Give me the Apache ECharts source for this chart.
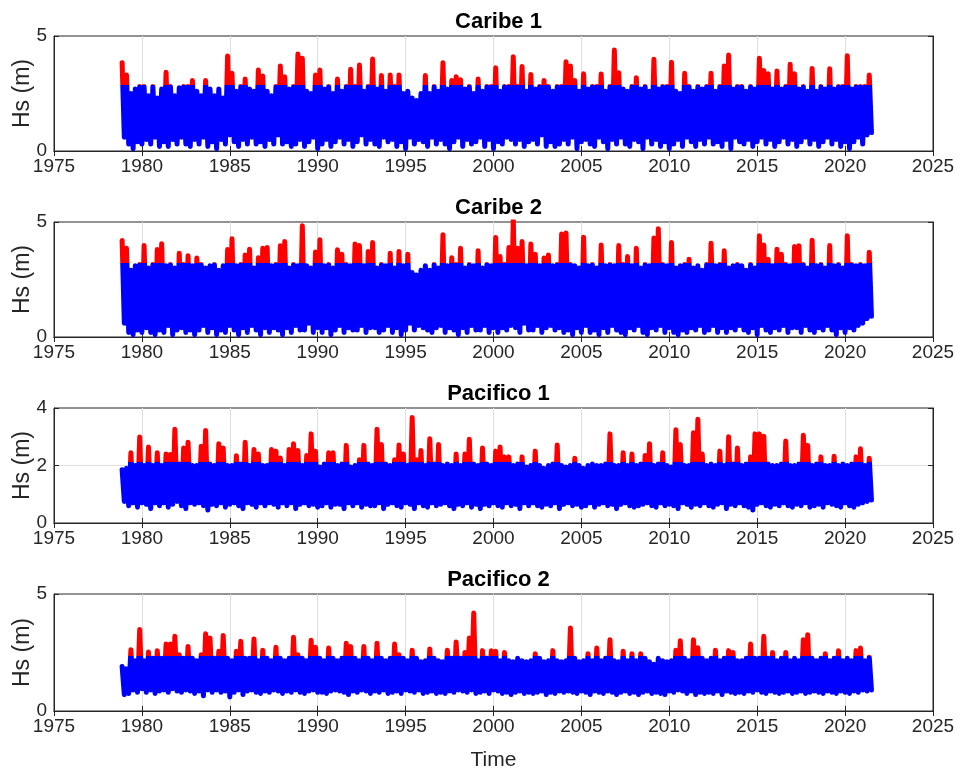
<!DOCTYPE html>
<html><head><meta charset="utf-8">
<script src="https://cdn.jsdelivr.net/npm/echarts@6/dist/echarts.min.js"></script>
<style>html,body{margin:0;padding:0;background:#fff}#c{width:961px;height:771px}</style>
</head><body><div id="c"></div>
<script>
// time grid: first sample (year) and spacing between successive maxima (years)
const startYear = 1978.875;
const stepYears = 0.25;
const titles = ['Caribe 1', 'Caribe 2', 'Pacifico 1', 'Pacifico 2'];
const thresholds = [2.87, 3.23, 2.11, 2.34];
const yMax = [5, 5, 4, 5];
const yStep = [5, 5, 2, 5];

// quarterly maxima (Hs, m)
const caribe1High = [3.84,
 3.3,2.5,2.7,2.8, 2.8,2.4,2.8,2.3, 2.7,3.42,2.8,2.4, 2.75,2.8,2.8,3.06, 2.6,2.4,3.06,2.7,
 2.4,2.7,2.3,4.13, 3.38,2.6,2.8,3.13, 2.7,2.6,3.52,3.26, 2.6,2.4,2.8,3.7, 3.23,2.7,2.8,4.22,
 4.03,2.6,2.5,3.3, 3.52,2.7,2.8,2.5, 3.13,2.6,2.8,3.55, 2.8,3.74,2.6,2.8, 4.0,2.7,3.28,2.6,
 3.3,2.8,3.3,2.5, 2.6,2.3,2.2,2.5, 3.28,2.5,2.8,2.6, 3.84,2.7,3.06,3.23, 3.1,2.7,2.8,2.5,
 3.13,2.6,2.8,2.8, 3.62,2.6,2.8,2.8, 4.1,2.8,3.67,2.6, 3.33,2.7,2.8,3.06, 2.8,2.6,2.8,2.8,
 3.88,3.7,3.06,2.6, 3.36,2.7,2.8,2.8, 3.35,2.6,2.8,4.39, 3.4,2.7,2.6,2.8, 3.19,2.7,2.8,2.6,
 3.99,2.7,2.8,2.8, 3.86,2.6,2.5,3.38, 2.8,2.6,2.8,2.7, 2.8,3.38,2.6,2.8, 3.7,4.17,2.7,2.8,
 2.8,2.6,2.8,2.7, 4.03,3.5,3.36,2.7, 3.48,2.7,2.8,3.77, 3.36,2.7,2.8,2.6, 3.59,2.6,2.8,2.7,
 3.58,2.7,2.8,2.8, 4.14,2.7,2.8,2.8, 2.8,3.3];
// quarterly minima (Hs, m)
const caribe1Low = [0.6,
 0.3,0.1,0.4,0.3, 0.5,0.3,0.6,0.2, 0.4,0.2,0.5,0.3, 0.6,0.3,0.2,0.5, 0.3,0.6,0.2,0.4,
 0.1,0.5,0.3,0.7, 0.4,0.2,0.5,0.3, 0.6,0.3,0.4,0.2, 0.5,0.3,0.7,0.3, 0.4,0.2,0.3,0.5,
 0.2,0.4,0.6,0.1, 0.3,0.5,0.2,0.4, 0.6,0.3,0.5,0.2, 0.4,0.7,0.3,0.5, 0.3,0.2,0.6,0.4,
 0.5,0.2,0.4,0.1, 0.6,0.3,0.5,0.4, 0.2,0.6,0.3,0.5, 0.3,0.1,0.4,0.6, 0.2,0.5,0.3,0.4,
 0.6,0.2,0.5,0.1, 0.4,0.3,0.6,0.5, 0.3,0.5,0.2,0.4, 0.5,0.3,0.7,0.2, 0.4,0.2,0.3,0.5,
 0.3,0.6,0.1,0.4, 0.5,0.3,0.2,0.6, 0.4,0.1,0.5,0.3, 0.6,0.3,0.2,0.5, 0.4,0.1,0.6,0.3,
 0.5,0.2,0.4,0.1, 0.3,0.5,0.2,0.6, 0.4,0.2,0.5,0.3, 0.6,0.3,0.4,0.2, 0.5,0.1,0.6,0.4,
 0.3,0.5,0.2,0.4, 0.6,0.3,0.5,0.2, 0.4,0.6,0.3,0.5, 0.2,0.4,0.6,0.3, 0.5,0.2,0.4,0.6,
 0.3,0.5,0.2,0.4, 0.1,0.4,0.6,0.3, 0.7,0.8];

const caribe2High = [4.2,
 3.86,2.9,3.1,3.15, 3.98,3.0,3.15,3.8, 4.05,3.1,3.15,3.0, 3.64,3.15,3.53,3.1, 3.43,3.15,3.0,3.1,
 3.15,2.9,3.1,3.8, 4.27,3.1,3.15,3.57, 3.82,3.0,3.45,3.86, 3.89,3.1,3.15,3.97, 4.15,3.0,3.15,3.1,
 4.84,3.1,3.0,3.7, 4.23,3.1,3.15,3.0, 3.79,3.6,3.15,3.1, 4.04,3.98,3.1,3.72, 4.11,3.0,3.15,3.1,
 3.64,3.0,3.72,3.1, 3.6,2.8,2.7,2.9, 3.1,2.9,3.15,3.0, 4.45,3.1,3.45,3.15, 3.86,3.0,3.15,3.1,
 3.75,3.0,3.15,3.1, 4.33,3.5,3.15,3.89, 5.07,3.86,4.15,3.1, 4.04,3.6,3.1,3.43, 3.57,3.1,3.15,4.48,
 4.52,3.15,3.1,3.0, 4.34,3.1,3.15,3.0, 4.0,3.1,3.15,3.1, 3.98,3.15,3.5,3.1, 3.86,3.0,3.15,3.1,
 4.3,4.71,3.15,3.1, 4.11,3.0,3.1,3.15, 3.38,3.0,3.1,2.9, 3.15,4.08,3.1,3.15, 3.75,3.0,3.1,3.15,
 3.1,2.9,3.15,3.0, 4.4,4.0,3.38,3.1, 3.82,3.6,3.15,3.1, 3.94,3.97,3.15,3.0, 4.21,3.1,3.15,3.0,
 3.98,3.1,3.15,3.0, 4.4,3.15,3.1,3.15, 3.1,3.69];
const caribe2Low = [0.6,
 0.2,0.1,0.3,0.2, 0.4,0.2,0.1,0.3, 0.2,0.5,0.1,0.3, 0.4,0.2,0.3,0.1, 0.3,0.5,0.2,0.4,
 0.1,0.3,0.2,0.5, 0.3,0.1,0.4,0.2, 0.5,0.3,0.1,0.4, 0.2,0.4,0.3,0.1, 0.4,0.2,0.5,0.3,
 0.3,0.6,0.2,0.4, 0.2,0.4,0.1,0.3, 0.5,0.2,0.4,0.3, 0.3,0.5,0.2,0.4, 0.4,0.2,0.3,0.5,
 0.2,0.4,0.1,0.3, 0.6,0.3,0.5,0.4, 0.3,0.2,0.4,0.5, 0.2,0.4,0.3,0.1, 0.4,0.2,0.5,0.3,
 0.3,0.5,0.2,0.4, 0.2,0.4,0.3,0.5, 0.4,0.2,0.6,0.3, 0.3,0.5,0.2,0.4, 0.5,0.3,0.4,0.2,
 0.3,0.1,0.4,0.2, 0.5,0.2,0.3,0.1, 0.4,0.2,0.5,0.3, 0.2,0.1,0.4,0.3, 0.5,0.2,0.1,0.4,
 0.3,0.5,0.2,0.4, 0.2,0.1,0.3,0.2, 0.4,0.3,0.5,0.2, 0.3,0.5,0.2,0.4, 0.2,0.4,0.3,0.5,
 0.3,0.2,0.4,0.1, 0.5,0.3,0.2,0.4, 0.3,0.5,0.2,0.4, 0.4,0.2,0.5,0.3, 0.2,0.4,0.3,0.5,
 0.3,0.1,0.4,0.2, 0.4,0.3,0.5,0.6, 0.8,0.9];

const pacifico1High = [1.85,
 1.9,2.44,2.0,2.99, 2.0,2.64,2.0,2.44, 2.0,2.4,2.38,3.26, 2.05,2.61,2.81,2.0, 2.0,2.67,3.22,2.05,
 2.0,2.76,2.61,2.0, 2.0,2.34,2.05,2.81, 2.0,2.56,2.4,2.0, 2.0,2.56,2.5,2.26, 2.0,2.56,2.76,2.52,
 2.0,2.35,3.1,2.5, 1.95,2.05,2.44,2.44, 2.0,2.05,2.7,1.95, 2.0,2.2,2.7,2.05, 2.0,3.26,2.73,2.05,
 2.0,2.2,2.71,2.4, 2.0,3.67,2.2,2.52, 2.0,2.93,2.05,2.73, 2.0,2.05,2.0,2.4, 2.0,2.4,2.91,2.05,
 2.0,2.61,2.05,2.0, 2.5,2.64,2.3,2.3, 2.0,2.05,2.3,1.95, 2.0,2.5,2.0,1.9, 2.0,2.05,2.71,2.0,
 1.95,2.0,2.25,2.0, 1.9,2.0,2.05,2.0, 2.0,2.05,3.1,2.0, 2.0,2.44,2.0,2.4, 2.0,2.05,2.35,2.76,
 2.0,2.05,2.44,2.0, 1.95,3.24,2.73,2.0, 2.0,3.14,3.61,2.4, 2.0,2.05,2.0,2.5, 2.0,3.0,2.05,2.61,
 2.0,2.05,2.3,3.1, 3.1,3.02,2.05,2.0, 2.0,2.05,2.85,2.0, 2.0,2.05,3.05,2.7, 2.0,2.05,2.3,2.0,
 2.0,2.32,2.0,2.05, 2.0,2.05,2.3,2.58, 2.0,2.25];
const pacifico1Low = [0.75,
 0.6,0.7,0.55,0.7, 0.65,0.5,0.7,0.6, 0.7,0.55,0.65,0.75, 0.6,0.5,0.7,0.65, 0.7,0.6,0.45,0.65,
 0.6,0.7,0.55,0.65, 0.7,0.6,0.5,0.7, 0.65,0.55,0.7,0.6, 0.7,0.65,0.55,0.7, 0.6,0.7,0.5,0.65,
 0.7,0.6,0.65,0.55, 0.6,0.7,0.55,0.65, 0.65,0.5,0.7,0.6, 0.7,0.55,0.65,0.6, 0.6,0.7,0.5,0.65,
 0.7,0.6,0.55,0.7, 0.65,0.5,0.7,0.6, 0.55,0.7,0.6,0.65, 0.7,0.6,0.5,0.65, 0.6,0.7,0.55,0.65,
 0.5,0.65,0.6,0.7, 0.6,0.55,0.7,0.6, 0.65,0.5,0.7,0.6, 0.7,0.6,0.55,0.65, 0.6,0.7,0.5,0.65,
 0.7,0.6,0.65,0.55, 0.6,0.7,0.55,0.65, 0.7,0.6,0.65,0.5, 0.65,0.7,0.6,0.55, 0.6,0.65,0.7,0.6,
 0.55,0.7,0.6,0.65, 0.6,0.5,0.7,0.65, 0.55,0.65,0.6,0.7, 0.6,0.55,0.65,0.7, 0.5,0.65,0.6,0.7,
 0.6,0.55,0.45,0.65, 0.7,0.6,0.55,0.65, 0.6,0.7,0.6,0.55, 0.65,0.6,0.7,0.55, 0.6,0.65,0.55,0.7,
 0.65,0.6,0.55,0.7, 0.6,0.55,0.65,0.7, 0.75,0.8];

const pacifico2High = [1.9,
 1.8,2.62,2.15,3.48, 2.15,2.52,2.25,2.58, 2.25,2.86,2.86,3.19, 2.4,2.25,2.76,2.25, 2.15,2.4,3.3,3.12,
 2.25,2.55,3.23,2.25, 2.15,2.55,2.98,2.25, 2.25,3.08,2.15,2.6, 2.25,2.15,2.72,2.25, 2.15,2.25,3.15,2.4,
 2.25,2.15,3.02,2.72, 2.25,2.15,2.69,2.25, 2.15,2.25,2.9,2.76, 2.25,2.15,2.76,2.25, 2.15,2.9,2.25,2.15,
 2.25,2.86,2.4,2.25, 2.15,2.6,2.25,2.1, 2.15,2.65,2.25,2.15, 2.1,2.6,2.25,2.95, 2.25,2.5,3.12,4.19,
 2.15,2.58,2.25,2.57, 2.55,2.15,2.5,2.15, 2.1,2.25,2.15,2.1, 2.15,2.45,2.25,2.1, 2.15,2.58,2.15,2.1,
 2.15,3.55,2.25,2.1, 2.15,2.45,2.15,2.69, 2.15,2.25,3.05,2.15, 2.1,2.55,2.15,2.45, 2.15,2.45,2.25,2.1,
 2.0,2.25,2.15,2.1, 2.15,2.6,3.0,2.25, 2.15,3.05,2.7,2.25, 2.15,2.25,2.6,2.15, 2.25,2.58,2.5,2.15,
 2.15,2.25,2.86,2.25, 2.25,3.19,2.25,2.5, 2.15,2.25,2.5,2.15, 2.25,2.15,3.05,3.26, 2.25,2.15,2.25,2.45,
 2.15,2.25,2.58,2.15, 2.25,2.15,2.58,2.69, 2.15,2.3];
const pacifico2Low = [0.7,
 0.75,0.9,0.8,0.95, 0.8,0.9,0.75,0.85, 0.9,0.8,0.95,0.85, 0.8,0.9,0.85,0.75, 0.85,0.65,0.9,0.8,
 0.9,0.8,0.85,0.6, 0.8,0.9,0.7,0.85, 0.9,0.8,0.75,0.85, 0.8,0.9,0.85,0.75, 0.85,0.8,0.9,0.8,
 0.75,0.85,0.9,0.8, 0.8,0.75,0.85,0.9, 0.85,0.8,0.7,0.85, 0.8,0.9,0.85,0.75, 0.85,0.8,0.9,0.75,
 0.8,0.85,0.75,0.9, 0.85,0.8,0.9,0.75, 0.8,0.85,0.75,0.8, 0.75,0.85,0.8,0.9, 0.85,0.8,0.9,0.75,
 0.8,0.85,0.75,0.9, 0.85,0.75,0.8,0.7, 0.8,0.85,0.75,0.8, 0.75,0.8,0.85,0.7, 0.8,0.75,0.85,0.8,
 0.85,0.8,0.75,0.85, 0.8,0.7,0.85,0.8, 0.75,0.85,0.8,0.7, 0.8,0.85,0.75,0.8, 0.7,0.8,0.85,0.75,
 0.8,0.75,0.7,0.85, 0.8,0.9,0.85,0.75, 0.85,0.7,0.8,0.75, 0.8,0.75,0.85,0.7, 0.85,0.8,0.75,0.8,
 0.75,0.85,0.8,0.9, 0.8,0.75,0.85,0.8, 0.75,0.8,0.85,0.75, 0.8,0.85,0.75,0.8, 0.85,0.8,0.75,0.85,
 0.8,0.75,0.85,0.8, 0.75,0.85,0.8,0.9, 0.85,0.9];

const highs = [caribe1High, caribe2High, pacifico1High, pacifico2High];
const lows = [caribe1Low, caribe2Low, pacifico1Low, pacifico2Low];

// layout
const TXT = '#262626';
const BLUE = '#0000ff', RED = '#ff0000';
const FONT = '"Liberation Sans", Arial, Helvetica, sans-serif';
const gridTops = [36, 222, 408, 594];
const gridHeights = [115, 115, 115, 117];
const gridLeft = 54, gridWidth = 879;

function buildSeriesData(h, l) {
  const out = [];
  const n = Math.min(h.length, l.length);
  for (let i = 0; i < n; i++) {
    const t = startYear + stepYears * i;
    out.push([t, h[i]]);
    out.push([t + stepYears / 2, l[i]]);
  }
  return out;
}

const grid = [], xAxis = [], yAxis = [], series = [], title = [], graphic = [];
for (let p = 0; p < 4; p++) {
  grid.push({left: gridLeft, top: gridTops[p], width: gridWidth, height: gridHeights[p],
    show: true, borderColor: TXT, borderWidth: 1, backgroundColor: '#fff'});
  xAxis.push({type: 'value', gridIndex: p, min: 1975, max: 2025, interval: 5, position: 'bottom',
    axisLine: {show: true, lineStyle: {color: TXT, width: 1}},
    axisTick: {show: true, inside: true, length: 5, lineStyle: {color: TXT}},
    axisLabel: {show: true, color: TXT, fontSize: 19, fontFamily: FONT, margin: 6, formatter: v => String(v)},
    splitLine: {show: true, showMinLine: false, showMaxLine: false, lineStyle: {color: '#dedede', width: 1}}
  });
  xAxis.push({type: 'value', gridIndex: p, min: 1975, max: 2025, interval: 5, position: 'top',
    axisLine: {show: true, lineStyle: {color: TXT}},
    axisTick: {show: true, inside: true, length: 5, lineStyle: {color: TXT}},
    axisLabel: {show: false}, splitLine: {show: false}
  });
  yAxis.push({type: 'value', gridIndex: p, min: 0, max: yMax[p], interval: yStep[p], position: 'left',
    axisLine: {show: true, lineStyle: {color: TXT}},
    axisTick: {show: true, inside: true, length: 5, lineStyle: {color: TXT}},
    axisLabel: {show: true, color: TXT, fontSize: 19, fontFamily: FONT, margin: 7},
    splitLine: {show: true, showMinLine: false, showMaxLine: false, lineStyle: {color: '#dedede', width: 1}}
  });
  yAxis.push({type: 'value', gridIndex: p, min: 0, max: yMax[p], interval: yStep[p], position: 'right',
    axisLine: {show: true, lineStyle: {color: TXT}},
    axisTick: {show: true, inside: true, length: 5, lineStyle: {color: TXT}},
    axisLabel: {show: false}, splitLine: {show: false}
  });
  series.push({type: 'line', xAxisIndex: 2 * p, yAxisIndex: 2 * p,
    data: buildSeriesData(highs[p], lows[p]),
    showSymbol: false, symbol: 'none', clip: true, z: 1,
    lineStyle: {width: 5, cap: 'round', join: 'round', color: BLUE}
  });
  title.push({text: titles[p], left: gridLeft + gridWidth / 2, textAlign: 'center',
    top: gridTops[p] - 30,
    textStyle: {color: '#000', fontSize: 22, fontWeight: 'bold', fontFamily: FONT}
  });
  graphic.push({type: 'text', x: 23, y: gridTops[p] + gridHeights[p] / 2, rotation: Math.PI / 2,
    style: {text: 'Hs (m)', fill: TXT, font: '23px ' + FONT, align: 'center', verticalAlign: 'middle'}});
}
graphic.push({type: 'text', x: gridLeft + gridWidth / 2, y: 760,
  style: {text: 'Time', fill: TXT, font: '21px ' + FONT, align: 'center', verticalAlign: 'middle'}});

const chart = echarts.init(document.getElementById('c'), null, {renderer: 'canvas'});
chart.setOption({animation: false, backgroundColor: '#fff', title, grid, xAxis, yAxis, series, graphic});

// colour each line red above its threshold: a hard-stop vertical gradient placed via the axis scale
const colored = series.map((s, p) => {
  const yThr = chart.convertToPixel({yAxisIndex: 2 * p}, thresholds[p]);
  const yTop = chart.convertToPixel({yAxisIndex: 2 * p}, yMax[p] + 1);
  const yBot = chart.convertToPixel({yAxisIndex: 2 * p}, -1);
  const f = (yThr - yTop) / (yBot - yTop);
  return {lineStyle: {color: new echarts.graphic.LinearGradient(0, yTop, 0, yBot, [
    {offset: 0, color: RED}, {offset: f, color: RED},
    {offset: f, color: BLUE}, {offset: 1, color: BLUE}], true)}};
});
chart.setOption({series: colored});
</script>
</body></html>
